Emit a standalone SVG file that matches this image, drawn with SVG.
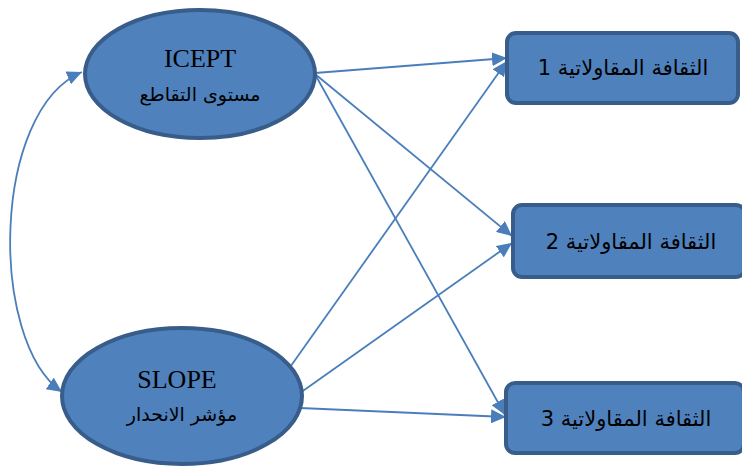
<svg xmlns="http://www.w3.org/2000/svg" width="742" height="466" viewBox="0 0 742 466">
  <style>
    .latent { fill: #4F81BD; stroke: #385D8A; stroke-width: 4; }
    .indicator { fill: #4F81BD; stroke: #385D8A; stroke-width: 4; }
    .link { fill: none; stroke: #4A7EBB; stroke-width: 1.8; }
    .lat-name { font-family: "Liberation Serif", "DejaVu Serif", serif; font-size: 26px; fill: #000; text-anchor: middle; }
    .ar { font-family: "DejaVu Sans", "Noto Sans", sans-serif; fill: #000; text-anchor: middle; }
  </style>
  <defs>
    <marker id="arrow" markerUnits="userSpaceOnUse" markerWidth="16" markerHeight="14" refX="15" refY="7" orient="auto-start-reverse" viewBox="0 0 16 14">
      <path d="M0,0 L15,7 L0,14 z" fill="#4A7EBB"/>
    </marker>
  </defs>

  <!-- paths from the latent factors to the indicators -->
  <g id="connectors">
    <path class="link" d="M82,72 C-8,110 -12,340 62,392" marker-start="url(#arrow)" marker-end="url(#arrow)"/>
    <line class="link" x1="315" y1="73" x2="507" y2="58" marker-end="url(#arrow)"/>
    <line class="link" x1="315" y1="74" x2="512" y2="236" marker-end="url(#arrow)"/>
    <line class="link" x1="316" y1="76" x2="505" y2="415" marker-end="url(#arrow)"/>
    <line class="link" x1="288" y1="370" x2="507" y2="61" marker-end="url(#arrow)"/>
    <line class="link" x1="300" y1="393" x2="512" y2="243" marker-end="url(#arrow)"/>
    <line class="link" x1="300" y1="408" x2="506" y2="417" marker-end="url(#arrow)"/>
  </g>

  <g id="icept">
    <ellipse class="latent" cx="200" cy="74" rx="115" ry="64"/>
    <text class="lat-name" x="200" y="67">ICEPT</text>
    <text class="ar" x="200" y="101" font-size="19" direction="rtl">مستوى التقاطع</text>
  </g>

  <g id="slope">
    <ellipse class="latent" cx="182" cy="396" rx="120" ry="68"/>
    <text class="lat-name" x="177" y="388">SLOPE</text>
    <text class="ar" x="182" y="421" font-size="19" direction="rtl">مؤشر الانحدار</text>
  </g>

  <g id="culture1">
    <rect class="indicator" x="507" y="33" width="231" height="70" rx="9"/>
    <text class="ar" x="623" y="75" font-size="21" direction="rtl">الثقافة المقاولاتية 1</text>
  </g>

  <g id="culture2">
    <rect class="indicator" x="513" y="205" width="232" height="72" rx="9"/>
    <text class="ar" x="631" y="249" font-size="21" direction="rtl">الثقافة المقاولاتية 2</text>
  </g>

  <g id="culture3">
    <rect class="indicator" x="506" y="383" width="238" height="70" rx="9"/>
    <text class="ar" x="626" y="426" font-size="21" direction="rtl">الثقافة المقاولاتية 3</text>
  </g>
</svg>
